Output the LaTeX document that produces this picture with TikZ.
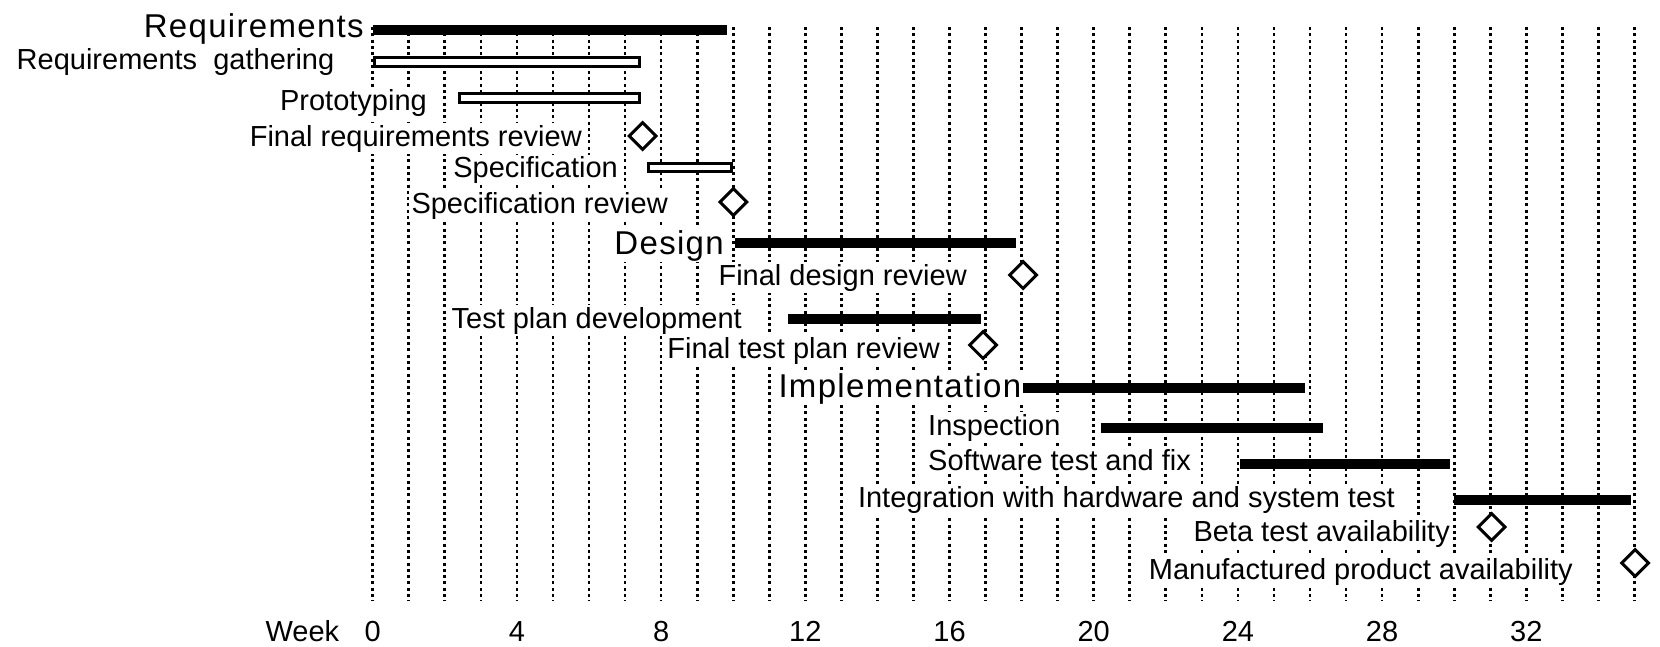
\documentclass[tikz,border=0pt]{standalone}
\usepackage{fontspec}
\setmainfont{Liberation Sans}
\newfontfamily\bigfamily[LetterSpace=4]{Liberation Sans}
\usetikzlibrary{shapes.geometric}
\begin{document}
\begin{tikzpicture}[x=1pt,y=-1pt,
  gridline/.style={line width=2.7pt, dash pattern=on 3pt off 3.3pt},
  sublabel/.style={font=\fontsize{29}{34}\selectfont, fill=white, inner xsep=3pt, inner ysep=1.5pt},
  biglabel/.style={font=\bigfamily\fontsize{33}{38}\selectfont, fill=white, inner xsep=3pt, inner ysep=1.5pt},
  axislabel/.style={font=\fontsize{29}{34}\selectfont, inner sep=0pt},
  milestone/.style={diamond, draw, line width=3pt, fill=white, minimum width=28pt, minimum height=28pt, inner sep=0pt},
  sumbar/.style={fill=black},
  openbar/.style={draw, line width=3.3pt, fill=white}]
\useasboundingbox (0,0) rectangle (1660,646);
\fill[white] (0,0) rectangle (1660,646);
% grid lines
\foreach \w in {0,...,35}{
  \pgfmathsetmacro{\gx}{372.7+36.05*\w}
  \draw[gridline] (\gx,27) -- (\gx,601);
}
% labels
\node[biglabel, anchor=base east] (lreq) at (367,37) {Requirements};
\node[sublabel, anchor=base east] (lgat) at (337.5,69) {Requirements~~gathering};
\node[sublabel, anchor=base east] (lpro) at (430,110) {Prototyping};
\node[sublabel, anchor=base east] (lfrr) at (585,146) {Final requirements review};
\node[sublabel, anchor=base east] (lspe) at (621,177.5) {Specification};
\node[sublabel, anchor=base east] (lspr) at (671,213) {Specification review};
\node[biglabel, anchor=base east] (ldes) at (727,254) {Design};
\node[sublabel, anchor=base east] (lfdr) at (970,285) {Final design review};
\node[sublabel, anchor=base east] (ltpd) at (745,328) {Test plan development};
\node[sublabel, anchor=base east] (lftp) at (943,358) {Final test plan review};
\node[biglabel, anchor=base east] (limp) at (1024.5,397) {Implementation};
\node[sublabel, anchor=base west] (lins) at (925,435) {Inspection};
\node[sublabel, anchor=base west] (lsof) at (925,470) {Software test and fix};
\node[sublabel, anchor=base east] (lint) at (1398,507) {Integration with hardware and system test};
\node[sublabel, anchor=base east] (lbet) at (1453,541) {Beta test availability};
\node[sublabel, anchor=base east] (lman) at (1576,579) {Manufactured product availability};
% bars
\path[sumbar] (373,25) rectangle (727,35);
\path[openbar] (374.65,57.65) rectangle (639.35,66.65);
\path[openbar] (459.15,93.35) rectangle (639.35,102.35);
\path[openbar] (648.35,163.35) rectangle (731.65,171.35);
\path[sumbar] (735,238) rectangle (1016,248);
\path[sumbar] (788,314) rectangle (980.5,324);
\path[sumbar] (1023,383) rectangle (1305,393);
\path[sumbar] (1100.7,423) rectangle (1323,433);
\path[sumbar] (1240,459) rectangle (1450,469);
\path[sumbar] (1454,495) rectangle (1630.7,505);
% milestones
\node[milestone] (mfrr) at (642.7,136) {};
\node[milestone] (mspr) at (733.3,202) {};
\node[milestone] (mfdr) at (1023,275) {};
\node[milestone] (mftp) at (983,345) {};
\node[milestone] (mbet) at (1491.7,527) {};
\node[milestone] (mman) at (1635,563) {};
% axis
\node[axislabel, anchor=base west] (week) at (265.4,641) {Week};
\foreach \w in {0,4,...,32}{
  \pgfmathsetmacro{\gx}{372.7+36.05*\w}
  \node[axislabel, anchor=base] (ax\w) at (\gx,641) {\w};
}
\end{tikzpicture}
\end{document}
